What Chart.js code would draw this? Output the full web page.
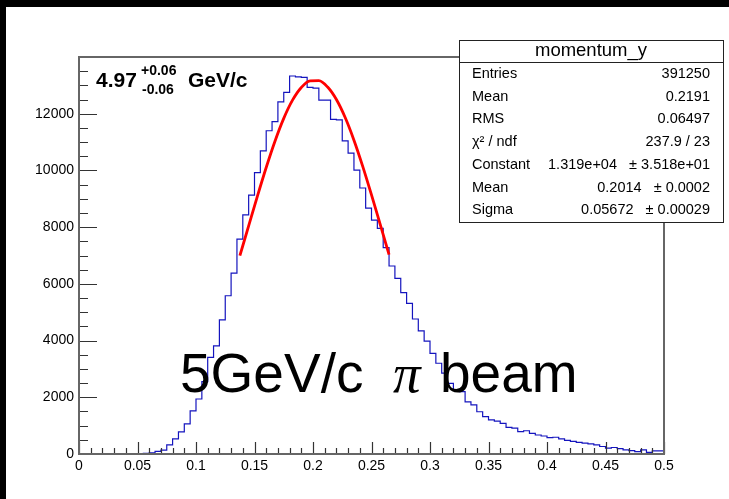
<!DOCTYPE html>
<html><head><meta charset="utf-8">
<script src="https://cdn.jsdelivr.net/npm/chart.js@4"></script>
<style>html,body{margin:0;padding:0;background:#fff;overflow:hidden}canvas{display:block}</style>
</head><body>
<canvas id="c" width="729" height="499"></canvas>
<script>
// ---- data ----
const xMin = 0, xMax = 0.5, binWidth = 0.005;
const binCounts = [
  0,0,0,0,0,0,0,0,0,0,0,0,
  20,40,90,140,320,530,780,1060,
  1520,1940,2550,3410,3810,4730,5580,6380,7580,8430,
  9130,9920,10690,11400,11720,12420,12750,13330,13300,13280,
  12930,12900,12480,12480,11800,11780,11040,10610,10010,9380,
  8670,8250,7960,7280,6630,6195,5690,5310,4760,4340,
  3980,3550,3200,2850,2490,2260,2200,1840,1730,1490,
  1320,1200,1160,1080,940,910,790,820,730,670,
  635,580,590,530,480,445,410,385,360,325,
  265,205,230,190,145,120,85,145,60,110
];
const fitX = [0.1375,0.145,0.1525,0.16,0.1675,0.175,0.1825,0.19,0.1975,0.205,0.2125,0.22,0.2275,0.235,0.2425,0.25,0.2575,0.265];
const fitY = [6993,8045,9096,10105,11032,11837,12478,12926,13159,13164,12940,12500,11865,11067,10144,9137,8087,7034];
const xTicks = [0,0.05,0.1,0.15,0.2,0.25,0.3,0.35,0.4,0.45,0.5];
const xTickLabels = ['0','0.05','0.1','0.15','0.2','0.25','0.3','0.35','0.4','0.45','0.5'];
const yTicks = [0,2000,4000,6000,8000,10000,12000];
const yMax = 14000;
const statsTitle = 'momentum_y';
const statsRows = [
  ['Entries','391250'],
  ['Mean','0.2191'],
  ['RMS','0.06497'],
  ['\u03C7\u00B2 / ndf','237.9 / 23'],
  ['Constant','1.319e+04   \u00B1 3.518e+01'],
  ['Mean','0.2014   \u00B1 0.0002'],
  ['Sigma','0.05672   \u00B1 0.00029']
];

// ---- build ----
const histPts = binCounts.map((v,i)=>({x: xMin + i*binWidth, y: v}));
histPts.push({x: xMax, y: binCounts[binCounts.length-1]});
const fitPts = fitX.map((x,i)=>({x, y: fitY[i]}));

const SANS = '"Liberation Sans", Arial, Helvetica, sans-serif';

const rootPlugin = {
  id: 'rootStyle',
  beforeDraw(chart){
    const ctx = chart.ctx;
    ctx.save();
    ctx.fillStyle = '#fff'; ctx.fillRect(0,0,chart.width,chart.height);
    ctx.fillStyle = '#000'; ctx.fillRect(0,0,chart.width,7); ctx.fillRect(0,0,6,chart.height);
    ctx.restore();
  },
  afterDatasetsDraw(chart){
    const {ctx, chartArea:a, scales:{x,y}} = chart;
    ctx.save();
    // ticks
    ctx.strokeStyle = '#333'; ctx.lineWidth = 1.2;
    ctx.beginPath();
    for (let k=0; k*500<yMax; k++){
      const py = Math.round(y.getPixelForValue(k*500))+0.5;
      const len = (k%4===0)?18:9;
      ctx.moveTo(a.left, py); ctx.lineTo(a.left+len, py);
    }
    for (let k=0; k<=50; k++){
      const px = Math.round(x.getPixelForValue(k*0.01))+0.5;
      const len = (k%5===0)?12:6;
      ctx.moveTo(px, a.bottom); ctx.lineTo(px, a.bottom-len);
    }
    ctx.stroke();
    // frame
    ctx.strokeStyle = '#666'; ctx.lineWidth = 2;
    ctx.strokeRect(a.left, a.top, a.right-a.left, a.bottom-a.top);
    // stats box
    const bx=459, by=40, bw=264, bh=182, sep=62;
    ctx.fillStyle='#fff'; ctx.fillRect(bx,by,bw,bh);
    ctx.strokeStyle='#222'; ctx.lineWidth=1;
    ctx.strokeRect(bx+0.5,by+0.5,bw,bh);
    ctx.beginPath(); ctx.moveTo(bx,sep+0.5); ctx.lineTo(bx+bw,sep+0.5); ctx.stroke();
    ctx.fillStyle='#000'; ctx.textBaseline='middle';
    ctx.font = '18.5px '+SANS; ctx.textAlign='center';
    ctx.fillText(statsTitle, bx+bw/2, 51);
    ctx.font = '14.5px '+SANS;
    statsRows.forEach((r,i)=>{
      const cy = 74 + i*22.7;
      ctx.textAlign='left'; ctx.fillText(r[0], 472, cy);
      ctx.textAlign='right'; ctx.fillText(r[1], 710, cy);
    });
    // momentum label
    ctx.textAlign='left'; ctx.textBaseline='alphabetic';
    ctx.font = 'bold 21px '+SANS;
    ctx.fillText('4.97', 96, 87);
    ctx.font = 'bold 14px '+SANS;
    ctx.fillText('+0.06', 141, 75);
    ctx.fillText('-0.06', 142, 94);
    ctx.font = 'bold 21px '+SANS;
    ctx.fillText('GeV/c', 188, 87);
    // beam caption
    ctx.font = '55px '+SANS;
    ctx.fillText('5GeV/c', 180, 392);
    ctx.font = 'italic 55px "Liberation Serif", "DejaVu Serif", serif';
    ctx.fillText('\u03C0', 393, 392);
    ctx.font = '55px '+SANS;
    ctx.fillText('beam', 440, 392);
    ctx.restore();
  }
};

new Chart(document.getElementById('c'), {
  type: 'line',
  data: { datasets: [
    { label:'fit', data: fitPts, borderColor:'rgb(255,0,0)', borderWidth:2.8, pointRadius:0, fill:false, cubicInterpolationMode:'monotone', order:0 },
    { label:'momentum_y', data: histPts, borderColor:'rgb(20,20,190)', borderWidth:1.2, pointRadius:0, fill:false, stepped:'after', order:1 }
  ]},
  options: {
    responsive:false, animation:false,
    layout:{ padding:{ top:57, right:65, left:0, bottom:0 } },
    plugins:{ legend:{display:false}, tooltip:{enabled:false} },
    scales:{
      x:{ type:'linear', min:xMin, max:xMax,
          grid:{display:false, drawTicks:false}, border:{display:false},
          afterBuildTicks(s){ s.ticks = xTicks.map(v=>({value:v})); },
          afterFit(s){ s.height = 45; },
          ticks:{ padding:4, maxRotation:0, autoSkip:false, color:'#000', font:{family:SANS, size:14},
                  callback:(v,i)=>xTickLabels[i] } },
      y:{ type:'linear', min:0, max:yMax,
          grid:{display:false, drawTicks:false}, border:{display:false},
          afterBuildTicks(s){ s.ticks = yTicks.map(v=>({value:v})); },
          afterFit(s){ s.width = 79; },
          ticks:{ padding:5, autoSkip:false, color:'#000', font:{family:SANS, size:14},
                  callback:(v)=>String(v) } }
    }
  },
  plugins:[rootPlugin]
});
</script>
</body></html>
